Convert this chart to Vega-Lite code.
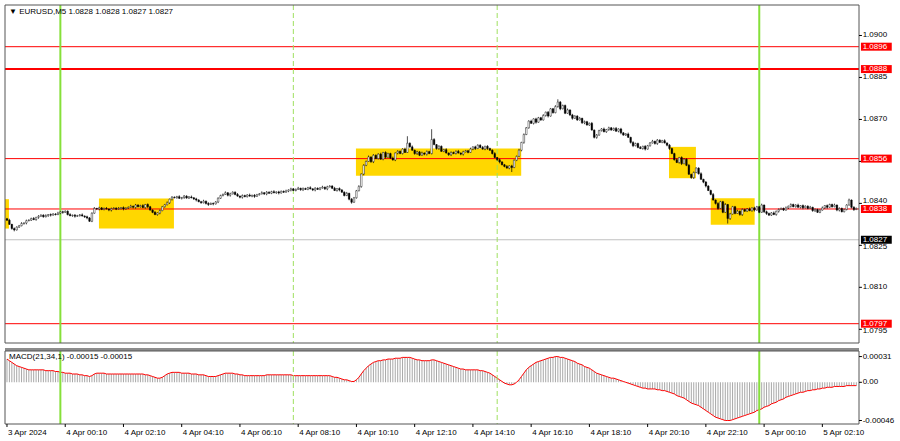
{
"$schema":"https://vega.github.io/schema/vega-lite/v6.json",
"padding":0,
"autosize":{"type":"none"},
"background":"white",
"width":900,
"height":441,
"config":{"view":{"stroke":null},"axis":{"disable":true},"font":"Liberation Sans","text":{"font":"Liberation Sans"}},
"resolve":{"scale":{"y":"independent"}},
"datasets":{
"bars":[
{"i":0,"o":1.08345,"h":1.08348,"l":1.08337,"c":1.08340,"m":0.00028},
{"i":1,"o":1.08340,"h":1.08345,"l":1.08323,"c":1.08325,"m":0.00026},
{"i":2,"o":1.08325,"h":1.08327,"l":1.08306,"c":1.08310,"m":0.00024},
{"i":3,"o":1.08310,"h":1.08314,"l":1.08300,"c":1.08305,"m":0.00022},
{"i":4,"o":1.08305,"h":1.08318,"l":1.08303,"c":1.08315,"m":0.00020},
{"i":5,"o":1.08315,"h":1.08323,"l":1.08312,"c":1.08320,"m":0.00019},
{"i":6,"o":1.08320,"h":1.08333,"l":1.08318,"c":1.08328,"m":0.00018},
{"i":7,"o":1.08328,"h":1.08332,"l":1.08324,"c":1.08330,"m":0.00017},
{"i":8,"o":1.08330,"h":1.08342,"l":1.08325,"c":1.08338,"m":0.00016},
{"i":9,"o":1.08338,"h":1.08343,"l":1.08336,"c":1.08340,"m":0.00015},
{"i":10,"o":1.08340,"h":1.08349,"l":1.08337,"c":1.08346,"m":0.00015},
{"i":11,"o":1.08346,"h":1.08351,"l":1.08340,"c":1.08342,"m":0.00015},
{"i":12,"o":1.08342,"h":1.08352,"l":1.08338,"c":1.08350,"m":0.00015},
{"i":13,"o":1.08350,"h":1.08358,"l":1.08345,"c":1.08354,"m":0.00015},
{"i":14,"o":1.08354,"h":1.08361,"l":1.08352,"c":1.08358,"m":0.00015},
{"i":15,"o":1.08358,"h":1.08361,"l":1.08349,"c":1.08352,"m":0.00015},
{"i":16,"o":1.08352,"h":1.08361,"l":1.08350,"c":1.08356,"m":0.00014},
{"i":17,"o":1.08356,"h":1.08362,"l":1.08352,"c":1.08360,"m":0.00014},
{"i":18,"o":1.08360,"h":1.08364,"l":1.08353,"c":1.08358,"m":0.00014},
{"i":19,"o":1.08358,"h":1.08365,"l":1.08356,"c":1.08362,"m":0.00014},
{"i":20,"o":1.08362,"h":1.08365,"l":1.08357,"c":1.08360,"m":0.00013},
{"i":21,"o":1.08360,"h":1.08370,"l":1.08358,"c":1.08365,"m":0.00013},
{"i":22,"o":1.08365,"h":1.08372,"l":1.08361,"c":1.08370,"m":0.00012},
{"i":23,"o":1.08370,"h":1.08374,"l":1.08363,"c":1.08368,"m":0.00012},
{"i":24,"o":1.08368,"h":1.08375,"l":1.08366,"c":1.08372,"m":0.00011},
{"i":25,"o":1.08372,"h":1.08375,"l":1.08357,"c":1.08360,"m":0.00011},
{"i":26,"o":1.08360,"h":1.08365,"l":1.08354,"c":1.08356,"m":0.00011},
{"i":27,"o":1.08356,"h":1.08360,"l":1.08352,"c":1.08358,"m":0.00010},
{"i":28,"o":1.08358,"h":1.08362,"l":1.08349,"c":1.08354,"m":0.00010},
{"i":29,"o":1.08354,"h":1.08359,"l":1.08352,"c":1.08356,"m":0.00010},
{"i":30,"o":1.08356,"h":1.08362,"l":1.08353,"c":1.08359,"m":0.00009},
{"i":31,"o":1.08359,"h":1.08364,"l":1.08353,"c":1.08355,"m":0.00009},
{"i":32,"o":1.08355,"h":1.08357,"l":1.08348,"c":1.08352,"m":0.00008},
{"i":33,"o":1.08352,"h":1.08356,"l":1.08343,"c":1.08348,"m":0.00008},
{"i":34,"o":1.08348,"h":1.08351,"l":1.08334,"c":1.08336,"m":0.00007},
{"i":35,"o":1.08336,"h":1.08368,"l":1.08333,"c":1.08365,"m":0.00008},
{"i":36,"o":1.08365,"h":1.08387,"l":1.08363,"c":1.08382,"m":0.00010},
{"i":37,"o":1.08382,"h":1.08384,"l":1.08376,"c":1.08380,"m":0.00011},
{"i":38,"o":1.08380,"h":1.08388,"l":1.08375,"c":1.08384,"m":0.00011},
{"i":39,"o":1.08384,"h":1.08387,"l":1.08376,"c":1.08378,"m":0.00011},
{"i":40,"o":1.08378,"h":1.08385,"l":1.08375,"c":1.08382,"m":0.00011},
{"i":41,"o":1.08382,"h":1.08387,"l":1.08378,"c":1.08380,"m":0.00010},
{"i":42,"o":1.08380,"h":1.08382,"l":1.08372,"c":1.08376,"m":0.00010},
{"i":43,"o":1.08376,"h":1.08385,"l":1.08371,"c":1.08381,"m":0.00010},
{"i":44,"o":1.08381,"h":1.08386,"l":1.08379,"c":1.08383,"m":0.00010},
{"i":45,"o":1.08383,"h":1.08386,"l":1.08376,"c":1.08379,"m":0.00010},
{"i":46,"o":1.08379,"h":1.08387,"l":1.08377,"c":1.08382,"m":0.00010},
{"i":47,"o":1.08382,"h":1.08387,"l":1.08378,"c":1.08385,"m":0.00010},
{"i":48,"o":1.08385,"h":1.08389,"l":1.08375,"c":1.08380,"m":0.00010},
{"i":49,"o":1.08380,"h":1.08386,"l":1.08378,"c":1.08383,"m":0.00010},
{"i":50,"o":1.08383,"h":1.08389,"l":1.08380,"c":1.08386,"m":0.00010},
{"i":51,"o":1.08386,"h":1.08395,"l":1.08384,"c":1.08390,"m":0.00010},
{"i":52,"o":1.08390,"h":1.08392,"l":1.08382,"c":1.08386,"m":0.00010},
{"i":53,"o":1.08386,"h":1.08398,"l":1.08381,"c":1.08394,"m":0.00010},
{"i":54,"o":1.08394,"h":1.08397,"l":1.08386,"c":1.08388,"m":0.00010},
{"i":55,"o":1.08388,"h":1.08395,"l":1.08385,"c":1.08392,"m":0.00010},
{"i":56,"o":1.08392,"h":1.08397,"l":1.08383,"c":1.08385,"m":0.00010},
{"i":57,"o":1.08385,"h":1.08398,"l":1.08381,"c":1.08396,"m":0.00009},
{"i":58,"o":1.08396,"h":1.08400,"l":1.08383,"c":1.08388,"m":0.00009},
{"i":59,"o":1.08388,"h":1.08391,"l":1.08374,"c":1.08376,"m":0.00008},
{"i":60,"o":1.08376,"h":1.08379,"l":1.08365,"c":1.08368,"m":0.00007},
{"i":61,"o":1.08368,"h":1.08373,"l":1.08358,"c":1.08360,"m":0.00006},
{"i":62,"o":1.08360,"h":1.08368,"l":1.08356,"c":1.08366,"m":0.00005},
{"i":63,"o":1.08366,"h":1.08378,"l":1.08361,"c":1.08374,"m":0.00005},
{"i":64,"o":1.08374,"h":1.08391,"l":1.08372,"c":1.08388,"m":0.00006},
{"i":65,"o":1.08388,"h":1.08398,"l":1.08385,"c":1.08395,"m":0.00008},
{"i":66,"o":1.08395,"h":1.08407,"l":1.08393,"c":1.08402,"m":0.00010},
{"i":67,"o":1.08402,"h":1.08417,"l":1.08398,"c":1.08415,"m":0.00011},
{"i":68,"o":1.08415,"h":1.08426,"l":1.08410,"c":1.08422,"m":0.00012},
{"i":69,"o":1.08422,"h":1.08425,"l":1.08418,"c":1.08420,"m":0.00012},
{"i":70,"o":1.08420,"h":1.08427,"l":1.08417,"c":1.08424,"m":0.00012},
{"i":71,"o":1.08424,"h":1.08429,"l":1.08416,"c":1.08418,"m":0.00012},
{"i":72,"o":1.08418,"h":1.08423,"l":1.08414,"c":1.08421,"m":0.00011},
{"i":73,"o":1.08421,"h":1.08430,"l":1.08416,"c":1.08426,"m":0.00011},
{"i":74,"o":1.08426,"h":1.08429,"l":1.08417,"c":1.08419,"m":0.00011},
{"i":75,"o":1.08419,"h":1.08426,"l":1.08416,"c":1.08423,"m":0.00011},
{"i":76,"o":1.08423,"h":1.08428,"l":1.08418,"c":1.08420,"m":0.00010},
{"i":77,"o":1.08420,"h":1.08422,"l":1.08412,"c":1.08416,"m":0.00010},
{"i":78,"o":1.08416,"h":1.08420,"l":1.08407,"c":1.08412,"m":0.00010},
{"i":79,"o":1.08412,"h":1.08415,"l":1.08404,"c":1.08406,"m":0.00009},
{"i":80,"o":1.08406,"h":1.08409,"l":1.08399,"c":1.08402,"m":0.00009},
{"i":81,"o":1.08402,"h":1.08413,"l":1.08400,"c":1.08408,"m":0.00009},
{"i":82,"o":1.08408,"h":1.08410,"l":1.08396,"c":1.08400,"m":0.00008},
{"i":83,"o":1.08400,"h":1.08404,"l":1.08391,"c":1.08396,"m":0.00007},
{"i":84,"o":1.08396,"h":1.08403,"l":1.08394,"c":1.08400,"m":0.00007},
{"i":85,"o":1.08400,"h":1.08403,"l":1.08393,"c":1.08398,"m":0.00007},
{"i":86,"o":1.08398,"h":1.08408,"l":1.08396,"c":1.08405,"m":0.00007},
{"i":87,"o":1.08405,"h":1.08422,"l":1.08401,"c":1.08418,"m":0.00008},
{"i":88,"o":1.08418,"h":1.08431,"l":1.08416,"c":1.08428,"m":0.00009},
{"i":89,"o":1.08428,"h":1.08435,"l":1.08425,"c":1.08432,"m":0.00010},
{"i":90,"o":1.08432,"h":1.08443,"l":1.08430,"c":1.08438,"m":0.00011},
{"i":91,"o":1.08438,"h":1.08440,"l":1.08425,"c":1.08429,"m":0.00011},
{"i":92,"o":1.08429,"h":1.08438,"l":1.08424,"c":1.08434,"m":0.00011},
{"i":93,"o":1.08434,"h":1.08443,"l":1.08432,"c":1.08440,"m":0.00011},
{"i":94,"o":1.08440,"h":1.08443,"l":1.08429,"c":1.08432,"m":0.00010},
{"i":95,"o":1.08432,"h":1.08437,"l":1.08424,"c":1.08426,"m":0.00010},
{"i":96,"o":1.08426,"h":1.08428,"l":1.08418,"c":1.08422,"m":0.00009},
{"i":97,"o":1.08422,"h":1.08432,"l":1.08417,"c":1.08428,"m":0.00009},
{"i":98,"o":1.08428,"h":1.08431,"l":1.08422,"c":1.08424,"m":0.00008},
{"i":99,"o":1.08424,"h":1.08433,"l":1.08421,"c":1.08430,"m":0.00008},
{"i":100,"o":1.08430,"h":1.08435,"l":1.08424,"c":1.08426,"m":0.00008},
{"i":101,"o":1.08426,"h":1.08431,"l":1.08422,"c":1.08429,"m":0.00008},
{"i":102,"o":1.08429,"h":1.08433,"l":1.08420,"c":1.08425,"m":0.00008},
{"i":103,"o":1.08425,"h":1.08434,"l":1.08423,"c":1.08431,"m":0.00008},
{"i":104,"o":1.08431,"h":1.08437,"l":1.08428,"c":1.08434,"m":0.00008},
{"i":105,"o":1.08434,"h":1.08443,"l":1.08432,"c":1.08438,"m":0.00008},
{"i":106,"o":1.08438,"h":1.08440,"l":1.08430,"c":1.08434,"m":0.00008},
{"i":107,"o":1.08434,"h":1.08444,"l":1.08429,"c":1.08440,"m":0.00009},
{"i":108,"o":1.08440,"h":1.08443,"l":1.08434,"c":1.08436,"m":0.00009},
{"i":109,"o":1.08436,"h":1.08445,"l":1.08433,"c":1.08442,"m":0.00009},
{"i":110,"o":1.08442,"h":1.08447,"l":1.08436,"c":1.08438,"m":0.00009},
{"i":111,"o":1.08438,"h":1.08443,"l":1.08434,"c":1.08441,"m":0.00009},
{"i":112,"o":1.08441,"h":1.08445,"l":1.08432,"c":1.08437,"m":0.00009},
{"i":113,"o":1.08437,"h":1.08446,"l":1.08435,"c":1.08443,"m":0.00009},
{"i":114,"o":1.08443,"h":1.08446,"l":1.08437,"c":1.08440,"m":0.00009},
{"i":115,"o":1.08440,"h":1.08449,"l":1.08438,"c":1.08444,"m":0.00009},
{"i":116,"o":1.08444,"h":1.08450,"l":1.08440,"c":1.08448,"m":0.00009},
{"i":117,"o":1.08448,"h":1.08456,"l":1.08443,"c":1.08452,"m":0.00009},
{"i":118,"o":1.08452,"h":1.08455,"l":1.08444,"c":1.08446,"m":0.00008},
{"i":119,"o":1.08446,"h":1.08453,"l":1.08443,"c":1.08450,"m":0.00008},
{"i":120,"o":1.08450,"h":1.08459,"l":1.08448,"c":1.08454,"m":0.00008},
{"i":121,"o":1.08454,"h":1.08456,"l":1.08445,"c":1.08449,"m":0.00008},
{"i":122,"o":1.08449,"h":1.08457,"l":1.08444,"c":1.08453,"m":0.00008},
{"i":123,"o":1.08453,"h":1.08456,"l":1.08448,"c":1.08450,"m":0.00008},
{"i":124,"o":1.08450,"h":1.08459,"l":1.08447,"c":1.08456,"m":0.00008},
{"i":125,"o":1.08456,"h":1.08461,"l":1.08450,"c":1.08452,"m":0.00008},
{"i":126,"o":1.08452,"h":1.08454,"l":1.08444,"c":1.08448,"m":0.00008},
{"i":127,"o":1.08448,"h":1.08458,"l":1.08443,"c":1.08454,"m":0.00008},
{"i":128,"o":1.08454,"h":1.08457,"l":1.08448,"c":1.08450,"m":0.00008},
{"i":129,"o":1.08450,"h":1.08458,"l":1.08447,"c":1.08455,"m":0.00008},
{"i":130,"o":1.08455,"h":1.08463,"l":1.08453,"c":1.08458,"m":0.00008},
{"i":131,"o":1.08458,"h":1.08460,"l":1.08448,"c":1.08452,"m":0.00008},
{"i":132,"o":1.08452,"h":1.08463,"l":1.08447,"c":1.08459,"m":0.00008},
{"i":133,"o":1.08459,"h":1.08465,"l":1.08457,"c":1.08462,"m":0.00008},
{"i":134,"o":1.08462,"h":1.08465,"l":1.08451,"c":1.08454,"m":0.00007},
{"i":135,"o":1.08454,"h":1.08459,"l":1.08444,"c":1.08446,"m":0.00006},
{"i":136,"o":1.08446,"h":1.08455,"l":1.08442,"c":1.08453,"m":0.00006},
{"i":137,"o":1.08453,"h":1.08457,"l":1.08443,"c":1.08448,"m":0.00005},
{"i":138,"o":1.08448,"h":1.08451,"l":1.08438,"c":1.08440,"m":0.00004},
{"i":139,"o":1.08440,"h":1.08443,"l":1.08425,"c":1.08428,"m":0.00003},
{"i":140,"o":1.08428,"h":1.08441,"l":1.08426,"c":1.08436,"m":0.00003},
{"i":141,"o":1.08436,"h":1.08438,"l":1.08411,"c":1.08415,"m":0.00002},
{"i":142,"o":1.08415,"h":1.08419,"l":1.08399,"c":1.08404,"m":0.00001},
{"i":143,"o":1.08404,"h":1.08423,"l":1.08402,"c":1.08420,"m":0.00001},
{"i":144,"o":1.08420,"h":1.08448,"l":1.08417,"c":1.08445,"m":0.00003},
{"i":145,"o":1.08445,"h":1.08465,"l":1.08443,"c":1.08460,"m":0.00006},
{"i":146,"o":1.08460,"h":1.08507,"l":1.08456,"c":1.08505,"m":0.00010},
{"i":147,"o":1.08505,"h":1.08540,"l":1.08500,"c":1.08536,"m":0.00014},
{"i":148,"o":1.08536,"h":1.08553,"l":1.08533,"c":1.08550,"m":0.00017},
{"i":149,"o":1.08550,"h":1.08571,"l":1.08548,"c":1.08566,"m":0.00020},
{"i":150,"o":1.08566,"h":1.08568,"l":1.08545,"c":1.08549,"m":0.00022},
{"i":151,"o":1.08549,"h":1.08576,"l":1.08544,"c":1.08572,"m":0.00024},
{"i":152,"o":1.08572,"h":1.08575,"l":1.08558,"c":1.08560,"m":0.00025},
{"i":153,"o":1.08560,"h":1.08579,"l":1.08557,"c":1.08576,"m":0.00026},
{"i":154,"o":1.08576,"h":1.08581,"l":1.08556,"c":1.08558,"m":0.00026},
{"i":155,"o":1.08558,"h":1.08584,"l":1.08554,"c":1.08582,"m":0.00027},
{"i":156,"o":1.08582,"h":1.08586,"l":1.08560,"c":1.08565,"m":0.00027},
{"i":157,"o":1.08565,"h":1.08581,"l":1.08563,"c":1.08578,"m":0.00028},
{"i":158,"o":1.08578,"h":1.08581,"l":1.08559,"c":1.08562,"m":0.00028},
{"i":159,"o":1.08562,"h":1.08567,"l":1.08553,"c":1.08555,"m":0.00028},
{"i":160,"o":1.08555,"h":1.08582,"l":1.08551,"c":1.08580,"m":0.00029},
{"i":161,"o":1.08580,"h":1.08590,"l":1.08575,"c":1.08586,"m":0.00029},
{"i":162,"o":1.08586,"h":1.08589,"l":1.08576,"c":1.08578,"m":0.00029},
{"i":163,"o":1.08578,"h":1.08597,"l":1.08575,"c":1.08594,"m":0.00030},
{"i":164,"o":1.08594,"h":1.08599,"l":1.08580,"c":1.08582,"m":0.00030},
{"i":165,"o":1.08582,"h":1.08640,"l":1.08580,"c":1.08615,"m":0.00030},
{"i":166,"o":1.08615,"h":1.08618,"l":1.08599,"c":1.08602,"m":0.00030},
{"i":167,"o":1.08602,"h":1.08607,"l":1.08588,"c":1.08590,"m":0.00029},
{"i":168,"o":1.08590,"h":1.08592,"l":1.08574,"c":1.08578,"m":0.00028},
{"i":169,"o":1.08578,"h":1.08588,"l":1.08573,"c":1.08584,"m":0.00027},
{"i":170,"o":1.08584,"h":1.08587,"l":1.08569,"c":1.08572,"m":0.00027},
{"i":171,"o":1.08572,"h":1.08585,"l":1.08570,"c":1.08580,"m":0.00026},
{"i":172,"o":1.08580,"h":1.08582,"l":1.08572,"c":1.08576,"m":0.00026},
{"i":173,"o":1.08576,"h":1.08589,"l":1.08571,"c":1.08585,"m":0.00026},
{"i":174,"o":1.08585,"h":1.08588,"l":1.08576,"c":1.08578,"m":0.00026},
{"i":175,"o":1.08578,"h":1.08665,"l":1.08575,"c":1.08628,"m":0.00027},
{"i":176,"o":1.08628,"h":1.08633,"l":1.08608,"c":1.08610,"m":0.00027},
{"i":177,"o":1.08610,"h":1.08612,"l":1.08592,"c":1.08596,"m":0.00026},
{"i":178,"o":1.08596,"h":1.08608,"l":1.08591,"c":1.08604,"m":0.00025},
{"i":179,"o":1.08604,"h":1.08607,"l":1.08584,"c":1.08586,"m":0.00024},
{"i":180,"o":1.08586,"h":1.08595,"l":1.08583,"c":1.08592,"m":0.00023},
{"i":181,"o":1.08592,"h":1.08597,"l":1.08578,"c":1.08580,"m":0.00022},
{"i":182,"o":1.08580,"h":1.08582,"l":1.08570,"c":1.08574,"m":0.00021},
{"i":183,"o":1.08574,"h":1.08586,"l":1.08569,"c":1.08582,"m":0.00020},
{"i":184,"o":1.08582,"h":1.08585,"l":1.08576,"c":1.08578,"m":0.00019},
{"i":185,"o":1.08578,"h":1.08589,"l":1.08575,"c":1.08586,"m":0.00018},
{"i":186,"o":1.08586,"h":1.08591,"l":1.08578,"c":1.08580,"m":0.00017},
{"i":187,"o":1.08580,"h":1.08582,"l":1.08572,"c":1.08576,"m":0.00016},
{"i":188,"o":1.08576,"h":1.08588,"l":1.08571,"c":1.08584,"m":0.00016},
{"i":189,"o":1.08584,"h":1.08591,"l":1.08582,"c":1.08588,"m":0.00015},
{"i":190,"o":1.08588,"h":1.08591,"l":1.08579,"c":1.08582,"m":0.00015},
{"i":191,"o":1.08582,"h":1.08599,"l":1.08580,"c":1.08594,"m":0.00015},
{"i":192,"o":1.08594,"h":1.08604,"l":1.08590,"c":1.08602,"m":0.00015},
{"i":193,"o":1.08602,"h":1.08606,"l":1.08591,"c":1.08596,"m":0.00015},
{"i":194,"o":1.08596,"h":1.08611,"l":1.08594,"c":1.08608,"m":0.00015},
{"i":195,"o":1.08608,"h":1.08611,"l":1.08597,"c":1.08600,"m":0.00014},
{"i":196,"o":1.08600,"h":1.08605,"l":1.08592,"c":1.08594,"m":0.00014},
{"i":197,"o":1.08594,"h":1.08606,"l":1.08590,"c":1.08604,"m":0.00013},
{"i":198,"o":1.08604,"h":1.08608,"l":1.08591,"c":1.08596,"m":0.00012},
{"i":199,"o":1.08596,"h":1.08599,"l":1.08588,"c":1.08590,"m":0.00011},
{"i":200,"o":1.08590,"h":1.08593,"l":1.08575,"c":1.08578,"m":0.00009},
{"i":201,"o":1.08578,"h":1.08583,"l":1.08562,"c":1.08564,"m":0.00007},
{"i":202,"o":1.08564,"h":1.08566,"l":1.08552,"c":1.08556,"m":0.00005},
{"i":203,"o":1.08556,"h":1.08560,"l":1.08543,"c":1.08548,"m":0.00003},
{"i":204,"o":1.08548,"h":1.08551,"l":1.08536,"c":1.08538,"m":0.00001},
{"i":205,"o":1.08538,"h":1.08541,"l":1.08529,"c":1.08532,"m":-0.00001},
{"i":206,"o":1.08532,"h":1.08537,"l":1.08524,"c":1.08526,"m":-0.00002},
{"i":207,"o":1.08526,"h":1.08536,"l":1.08522,"c":1.08534,"m":-0.00003},
{"i":208,"o":1.08534,"h":1.08538,"l":1.08512,"c":1.08528,"m":-0.00003},
{"i":209,"o":1.08528,"h":1.08557,"l":1.08526,"c":1.08554,"m":-0.00002},
{"i":210,"o":1.08554,"h":1.08571,"l":1.08551,"c":1.08568,"m":0.00000},
{"i":211,"o":1.08568,"h":1.08595,"l":1.08566,"c":1.08590,"m":0.00003},
{"i":212,"o":1.08590,"h":1.08620,"l":1.08586,"c":1.08618,"m":0.00007},
{"i":213,"o":1.08618,"h":1.08650,"l":1.08613,"c":1.08646,"m":0.00011},
{"i":214,"o":1.08646,"h":1.08673,"l":1.08644,"c":1.08670,"m":0.00015},
{"i":215,"o":1.08670,"h":1.08697,"l":1.08667,"c":1.08694,"m":0.00018},
{"i":216,"o":1.08694,"h":1.08699,"l":1.08684,"c":1.08686,"m":0.00020},
{"i":217,"o":1.08686,"h":1.08704,"l":1.08682,"c":1.08702,"m":0.00022},
{"i":218,"o":1.08702,"h":1.08706,"l":1.08685,"c":1.08690,"m":0.00024},
{"i":219,"o":1.08690,"h":1.08709,"l":1.08688,"c":1.08706,"m":0.00025},
{"i":220,"o":1.08706,"h":1.08709,"l":1.08695,"c":1.08698,"m":0.00026},
{"i":221,"o":1.08698,"h":1.08719,"l":1.08696,"c":1.08714,"m":0.00027},
{"i":222,"o":1.08714,"h":1.08728,"l":1.08710,"c":1.08726,"m":0.00028},
{"i":223,"o":1.08726,"h":1.08730,"l":1.08707,"c":1.08712,"m":0.00029},
{"i":224,"o":1.08712,"h":1.08741,"l":1.08710,"c":1.08738,"m":0.00030},
{"i":225,"o":1.08738,"h":1.08741,"l":1.08721,"c":1.08724,"m":0.00030},
{"i":226,"o":1.08724,"h":1.08751,"l":1.08722,"c":1.08746,"m":0.00031},
{"i":227,"o":1.08746,"h":1.08772,"l":1.08742,"c":1.08762,"m":0.00031},
{"i":228,"o":1.08762,"h":1.08766,"l":1.08733,"c":1.08738,"m":0.00030},
{"i":229,"o":1.08738,"h":1.08753,"l":1.08736,"c":1.08750,"m":0.00030},
{"i":230,"o":1.08750,"h":1.08753,"l":1.08719,"c":1.08722,"m":0.00029},
{"i":231,"o":1.08722,"h":1.08739,"l":1.08720,"c":1.08734,"m":0.00028},
{"i":232,"o":1.08734,"h":1.08736,"l":1.08712,"c":1.08716,"m":0.00027},
{"i":233,"o":1.08716,"h":1.08720,"l":1.08699,"c":1.08704,"m":0.00026},
{"i":234,"o":1.08704,"h":1.08715,"l":1.08702,"c":1.08712,"m":0.00025},
{"i":235,"o":1.08712,"h":1.08715,"l":1.08695,"c":1.08698,"m":0.00023},
{"i":236,"o":1.08698,"h":1.08709,"l":1.08696,"c":1.08704,"m":0.00022},
{"i":237,"o":1.08704,"h":1.08706,"l":1.08684,"c":1.08688,"m":0.00021},
{"i":238,"o":1.08688,"h":1.08696,"l":1.08683,"c":1.08692,"m":0.00019},
{"i":239,"o":1.08692,"h":1.08695,"l":1.08678,"c":1.08680,"m":0.00018},
{"i":240,"o":1.08680,"h":1.08689,"l":1.08677,"c":1.08686,"m":0.00017},
{"i":241,"o":1.08686,"h":1.08691,"l":1.08660,"c":1.08662,"m":0.00015},
{"i":242,"o":1.08662,"h":1.08664,"l":1.08632,"c":1.08636,"m":0.00013},
{"i":243,"o":1.08636,"h":1.08648,"l":1.08631,"c":1.08644,"m":0.00011},
{"i":244,"o":1.08644,"h":1.08663,"l":1.08642,"c":1.08660,"m":0.00010},
{"i":245,"o":1.08660,"h":1.08669,"l":1.08657,"c":1.08666,"m":0.00009},
{"i":246,"o":1.08666,"h":1.08671,"l":1.08654,"c":1.08656,"m":0.00008},
{"i":247,"o":1.08656,"h":1.08666,"l":1.08652,"c":1.08664,"m":0.00007},
{"i":248,"o":1.08664,"h":1.08674,"l":1.08659,"c":1.08670,"m":0.00006},
{"i":249,"o":1.08670,"h":1.08673,"l":1.08660,"c":1.08662,"m":0.00005},
{"i":250,"o":1.08662,"h":1.08671,"l":1.08659,"c":1.08668,"m":0.00005},
{"i":251,"o":1.08668,"h":1.08673,"l":1.08656,"c":1.08658,"m":0.00004},
{"i":252,"o":1.08658,"h":1.08668,"l":1.08654,"c":1.08666,"m":0.00003},
{"i":253,"o":1.08666,"h":1.08670,"l":1.08647,"c":1.08652,"m":0.00002},
{"i":254,"o":1.08652,"h":1.08655,"l":1.08642,"c":1.08644,"m":0.00001},
{"i":255,"o":1.08644,"h":1.08651,"l":1.08641,"c":1.08648,"m":0.00000},
{"i":256,"o":1.08648,"h":1.08653,"l":1.08634,"c":1.08636,"m":-0.00001},
{"i":257,"o":1.08636,"h":1.08638,"l":1.08614,"c":1.08618,"m":-0.00002},
{"i":258,"o":1.08618,"h":1.08622,"l":1.08601,"c":1.08606,"m":-0.00003},
{"i":259,"o":1.08606,"h":1.08617,"l":1.08604,"c":1.08614,"m":-0.00004},
{"i":260,"o":1.08614,"h":1.08617,"l":1.08597,"c":1.08600,"m":-0.00005},
{"i":261,"o":1.08600,"h":1.08605,"l":1.08594,"c":1.08596,"m":-0.00006},
{"i":262,"o":1.08596,"h":1.08606,"l":1.08592,"c":1.08604,"m":-0.00007},
{"i":263,"o":1.08604,"h":1.08608,"l":1.08589,"c":1.08594,"m":-0.00007},
{"i":264,"o":1.08594,"h":1.08609,"l":1.08592,"c":1.08606,"m":-0.00008},
{"i":265,"o":1.08606,"h":1.08619,"l":1.08603,"c":1.08616,"m":-0.00008},
{"i":266,"o":1.08616,"h":1.08627,"l":1.08614,"c":1.08622,"m":-0.00008},
{"i":267,"o":1.08622,"h":1.08624,"l":1.08610,"c":1.08614,"m":-0.00008},
{"i":268,"o":1.08614,"h":1.08630,"l":1.08609,"c":1.08626,"m":-0.00009},
{"i":269,"o":1.08626,"h":1.08629,"l":1.08616,"c":1.08618,"m":-0.00009},
{"i":270,"o":1.08618,"h":1.08627,"l":1.08615,"c":1.08624,"m":-0.00010},
{"i":271,"o":1.08624,"h":1.08629,"l":1.08614,"c":1.08616,"m":-0.00010},
{"i":272,"o":1.08616,"h":1.08618,"l":1.08604,"c":1.08608,"m":-0.00011},
{"i":273,"o":1.08608,"h":1.08612,"l":1.08591,"c":1.08596,"m":-0.00012},
{"i":274,"o":1.08596,"h":1.08599,"l":1.08576,"c":1.08578,"m":-0.00013},
{"i":275,"o":1.08578,"h":1.08581,"l":1.08553,"c":1.08556,"m":-0.00014},
{"i":276,"o":1.08556,"h":1.08561,"l":1.08544,"c":1.08546,"m":-0.00016},
{"i":277,"o":1.08546,"h":1.08566,"l":1.08542,"c":1.08564,"m":-0.00017},
{"i":278,"o":1.08564,"h":1.08568,"l":1.08537,"c":1.08542,"m":-0.00018},
{"i":279,"o":1.08542,"h":1.08561,"l":1.08540,"c":1.08558,"m":-0.00019},
{"i":280,"o":1.08558,"h":1.08561,"l":1.08533,"c":1.08536,"m":-0.00021},
{"i":281,"o":1.08536,"h":1.08541,"l":1.08502,"c":1.08504,"m":-0.00023},
{"i":282,"o":1.08504,"h":1.08506,"l":1.08488,"c":1.08492,"m":-0.00025},
{"i":283,"o":1.08492,"h":1.08514,"l":1.08487,"c":1.08510,"m":-0.00026},
{"i":284,"o":1.08510,"h":1.08529,"l":1.08508,"c":1.08526,"m":-0.00027},
{"i":285,"o":1.08526,"h":1.08529,"l":1.08503,"c":1.08506,"m":-0.00028},
{"i":286,"o":1.08506,"h":1.08511,"l":1.08484,"c":1.08486,"m":-0.00030},
{"i":287,"o":1.08486,"h":1.08488,"l":1.08472,"c":1.08476,"m":-0.00032},
{"i":288,"o":1.08476,"h":1.08480,"l":1.08457,"c":1.08462,"m":-0.00034},
{"i":289,"o":1.08462,"h":1.08465,"l":1.08444,"c":1.08446,"m":-0.00036},
{"i":290,"o":1.08446,"h":1.08449,"l":1.08429,"c":1.08432,"m":-0.00038},
{"i":291,"o":1.08432,"h":1.08437,"l":1.08410,"c":1.08412,"m":-0.00040},
{"i":292,"o":1.08412,"h":1.08414,"l":1.08396,"c":1.08400,"m":-0.00042},
{"i":293,"o":1.08400,"h":1.08404,"l":1.08377,"c":1.08382,"m":-0.00043},
{"i":294,"o":1.08382,"h":1.08409,"l":1.08380,"c":1.08406,"m":-0.00044},
{"i":295,"o":1.08406,"h":1.08409,"l":1.08365,"c":1.08368,"m":-0.00045},
{"i":296,"o":1.08368,"h":1.08401,"l":1.08366,"c":1.08396,"m":-0.00046},
{"i":297,"o":1.08396,"h":1.08398,"l":1.08328,"c":1.08346,"m":-0.00046},
{"i":298,"o":1.08346,"h":1.08366,"l":1.08341,"c":1.08362,"m":-0.00046},
{"i":299,"o":1.08362,"h":1.08391,"l":1.08360,"c":1.08388,"m":-0.00045},
{"i":300,"o":1.08388,"h":1.08391,"l":1.08361,"c":1.08364,"m":-0.00044},
{"i":301,"o":1.08364,"h":1.08377,"l":1.08362,"c":1.08372,"m":-0.00043},
{"i":302,"o":1.08372,"h":1.08374,"l":1.08356,"c":1.08360,"m":-0.00042},
{"i":303,"o":1.08360,"h":1.08382,"l":1.08355,"c":1.08378,"m":-0.00041},
{"i":304,"o":1.08378,"h":1.08381,"l":1.08370,"c":1.08372,"m":-0.00040},
{"i":305,"o":1.08372,"h":1.08383,"l":1.08369,"c":1.08380,"m":-0.00039},
{"i":306,"o":1.08380,"h":1.08385,"l":1.08372,"c":1.08374,"m":-0.00038},
{"i":307,"o":1.08374,"h":1.08386,"l":1.08370,"c":1.08384,"m":-0.00037},
{"i":308,"o":1.08384,"h":1.08388,"l":1.08371,"c":1.08376,"m":-0.00036},
{"i":309,"o":1.08376,"h":1.08391,"l":1.08374,"c":1.08388,"m":-0.00034},
{"i":310,"o":1.08388,"h":1.08391,"l":1.08365,"c":1.08368,"m":-0.00033},
{"i":311,"o":1.08368,"h":1.08399,"l":1.08366,"c":1.08394,"m":-0.00032},
{"i":312,"o":1.08394,"h":1.08396,"l":1.08366,"c":1.08370,"m":-0.00030},
{"i":313,"o":1.08370,"h":1.08374,"l":1.08359,"c":1.08364,"m":-0.00029},
{"i":314,"o":1.08364,"h":1.08367,"l":1.08356,"c":1.08358,"m":-0.00028},
{"i":315,"o":1.08358,"h":1.08369,"l":1.08355,"c":1.08366,"m":-0.00026},
{"i":316,"o":1.08366,"h":1.08371,"l":1.08358,"c":1.08360,"m":-0.00025},
{"i":317,"o":1.08360,"h":1.08374,"l":1.08356,"c":1.08372,"m":-0.00024},
{"i":318,"o":1.08372,"h":1.08382,"l":1.08367,"c":1.08378,"m":-0.00022},
{"i":319,"o":1.08378,"h":1.08385,"l":1.08376,"c":1.08382,"m":-0.00021},
{"i":320,"o":1.08382,"h":1.08385,"l":1.08373,"c":1.08376,"m":-0.00020},
{"i":321,"o":1.08376,"h":1.08389,"l":1.08374,"c":1.08384,"m":-0.00018},
{"i":322,"o":1.08384,"h":1.08392,"l":1.08380,"c":1.08390,"m":-0.00017},
{"i":323,"o":1.08390,"h":1.08400,"l":1.08385,"c":1.08396,"m":-0.00016},
{"i":324,"o":1.08396,"h":1.08399,"l":1.08386,"c":1.08388,"m":-0.00015},
{"i":325,"o":1.08388,"h":1.08397,"l":1.08385,"c":1.08394,"m":-0.00014},
{"i":326,"o":1.08394,"h":1.08399,"l":1.08384,"c":1.08386,"m":-0.00013},
{"i":327,"o":1.08386,"h":1.08394,"l":1.08382,"c":1.08392,"m":-0.00012},
{"i":328,"o":1.08392,"h":1.08396,"l":1.08379,"c":1.08384,"m":-0.00012},
{"i":329,"o":1.08384,"h":1.08393,"l":1.08382,"c":1.08390,"m":-0.00011},
{"i":330,"o":1.08390,"h":1.08393,"l":1.08379,"c":1.08382,"m":-0.00010},
{"i":331,"o":1.08382,"h":1.08391,"l":1.08380,"c":1.08386,"m":-0.00010},
{"i":332,"o":1.08386,"h":1.08388,"l":1.08370,"c":1.08374,"m":-0.00009},
{"i":333,"o":1.08374,"h":1.08382,"l":1.08369,"c":1.08378,"m":-0.00009},
{"i":334,"o":1.08378,"h":1.08381,"l":1.08366,"c":1.08368,"m":-0.00008},
{"i":335,"o":1.08368,"h":1.08379,"l":1.08365,"c":1.08376,"m":-0.00008},
{"i":336,"o":1.08376,"h":1.08389,"l":1.08374,"c":1.08384,"m":-0.00007},
{"i":337,"o":1.08384,"h":1.08394,"l":1.08380,"c":1.08392,"m":-0.00007},
{"i":338,"o":1.08392,"h":1.08396,"l":1.08381,"c":1.08386,"m":-0.00006},
{"i":339,"o":1.08386,"h":1.08399,"l":1.08384,"c":1.08396,"m":-0.00006},
{"i":340,"o":1.08396,"h":1.08399,"l":1.08385,"c":1.08388,"m":-0.00006},
{"i":341,"o":1.08388,"h":1.08399,"l":1.08386,"c":1.08394,"m":-0.00005},
{"i":342,"o":1.08394,"h":1.08396,"l":1.08372,"c":1.08376,"m":-0.00005},
{"i":343,"o":1.08376,"h":1.08386,"l":1.08371,"c":1.08382,"m":-0.00005},
{"i":344,"o":1.08382,"h":1.08385,"l":1.08368,"c":1.08370,"m":-0.00005},
{"i":345,"o":1.08370,"h":1.08381,"l":1.08368,"c":1.08378,"m":-0.00005},
{"i":346,"o":1.08378,"h":1.08397,"l":1.08375,"c":1.08394,"m":-0.00004},
{"i":347,"o":1.08394,"h":1.08417,"l":1.08392,"c":1.08412,"m":-0.00004},
{"i":348,"o":1.08412,"h":1.08414,"l":1.08382,"c":1.08386,"m":-0.00004},
{"i":349,"o":1.08386,"h":1.08390,"l":1.08373,"c":1.08378,"m":-0.00004},
{"i":350,"o":1.08378,"h":1.08385,"l":1.08376,"c":1.08382,"m":-0.00004}
]},
"layer":[
{"layer":[
{"data":{"values":[{"a":-0.815,"b":0.81,"top":1.08415,"bot":1.0831},{"a":37.9,"b":68.8,"top":1.08417,"bot":1.0831},{"a":143.8,"b":211.9,"top":1.08596,"bot":1.08499},{"a":272.8,"b":283.9,"top":1.08602,"bot":1.0849},{"a":290.0,"b":308.1,"top":1.08418,"bot":1.08324}]},
 "mark":{"type":"rect","color":"#FFD700"},
 "encoding":{
  "x":{"field":"a","type":"quantitative","scale":{"domain":[-0.815,351.1],"range":[0,864],"nice":false,"zero":false}},
  "x2":{"field":"b"},
  "y":{"field":"top","type":"quantitative","scale":{"domain":[1.07901,1.09109],"range":[348,0],"nice":false,"zero":false}},
  "y2":{"field":"bot"}}},
{"data":{"values":[{"p":1.0827}]},"mark":{"type":"rule","color":"#c0c0c0","strokeWidth":1},"encoding":{"x":{"datum":-0.815,"type":"quantitative"},"x2":{"datum":351.1},"y":{"field":"p","type":"quantitative"}}},
{"data":{"values":[{"p":1.0896},{"p":1.0856},{"p":1.0838},{"p":1.0797}]},"mark":{"type":"rule","color":"#ff0000","strokeWidth":1},"encoding":{"x":{"datum":-0.815,"type":"quantitative"},"x2":{"datum":351.1},"y":{"field":"p","type":"quantitative"}}},
{"data":{"values":[{"p":1.0888}]},"mark":{"type":"rule","color":"#ff0000","strokeWidth":2},"encoding":{"x":{"datum":-0.815,"type":"quantitative"},"x2":{"datum":351.1},"y":{"field":"p","type":"quantitative"}}},
{"data":{"values":[{"i":22},{"i":310}]},"mark":{"type":"rule","color":"#86e03a","strokeWidth":2},"encoding":{"x":{"field":"i","type":"quantitative"},"y":{"datum":1.09109,"type":"quantitative"},"y2":{"datum":1.07901}}},
{"data":{"values":[{"i":118},{"i":202}]},"mark":{"type":"rule","color":"#9fe060","strokeWidth":1,"strokeDash":[5,3]},"encoding":{"x":{"field":"i","type":"quantitative"},"y":{"datum":1.09109,"type":"quantitative"},"y2":{"datum":1.07901}}},
{"data":{"name":"bars"},"mark":{"type":"rule","color":"#000","strokeWidth":0.7},"encoding":{"x":{"field":"i","type":"quantitative"},"y":{"field":"l","type":"quantitative"},"y2":{"field":"h"}}},
{"data":{"name":"bars"},"mark":{"type":"bar","size":1.6,"stroke":"#000","strokeWidth":0.4},"encoding":{"x":{"field":"i","type":"quantitative"},"y":{"field":"o","type":"quantitative"},"y2":{"field":"c"},"fill":{"condition":{"test":"datum.c >= datum.o","value":"#ffffff"},"value":"#000000"}}},
{"data":{"values":[{"a":-0.815,"b":351.1}]},"mark":{"type":"rect","filled":false,"color":"#555","strokeWidth":1},"encoding":{"x":{"field":"a","type":"quantitative"},"x2":{"field":"b"},"y":{"datum":1.09109,"type":"quantitative"},"y2":{"datum":1.07901}}},
{"data":{"values":[{"p":1.0795},{"p":1.081},{"p":1.0825},{"p":1.084},{"p":1.0855},{"p":1.087},{"p":1.0885},{"p":1.09}]},"mark":{"type":"rule","color":"#000","strokeWidth":1},"encoding":{"x":{"datum":351.1,"type":"quantitative"},"x2":{"datum":352.3},"y":{"field":"p","type":"quantitative"}}},
{"data":{"values":[{"p":1.081},{"p":1.087},{"p":1.0885},{"p":1.09}]},"mark":{"type":"text","align":"left","baseline":"middle","color":"#000","fontSize":8,"font":"Liberation Sans"},"encoding":{"x":{"datum":352.6,"type":"quantitative"},"y":{"field":"p","type":"quantitative"},"text":{"field":"p","type":"quantitative","format":".4f"}}},
{"data":{"values":[{"p":1.084}]},"mark":{"type":"text","align":"left","baseline":"middle","color":"#000","fontSize":8,"font":"Liberation Sans","dy":-2},"encoding":{"x":{"datum":352.6,"type":"quantitative"},"y":{"field":"p","type":"quantitative"},"text":{"field":"p","type":"quantitative","format":".4f"}}},
{"data":{"values":[{"p":1.0825},{"p":1.0795}]},"mark":{"type":"text","align":"left","baseline":"middle","color":"#000","fontSize":8,"font":"Liberation Sans","dy":2},"encoding":{"x":{"datum":352.6,"type":"quantitative"},"y":{"field":"p","type":"quantitative"},"text":{"field":"p","type":"quantitative","format":".4f"}}},
{"data":{"values":[{"p":1.0896},{"p":1.0888},{"p":1.0856},{"p":1.0838},{"p":1.0797}]},"mark":{"type":"bar","size":8,"color":"#ff0000"},"encoding":{"x":{"datum":351.9,"type":"quantitative"},"x2":{"datum":364.6},"y":{"field":"p","type":"quantitative"}}},
{"data":{"values":[{"p":1.0827}]},"mark":{"type":"bar","size":8,"color":"#000000"},"encoding":{"x":{"datum":351.9,"type":"quantitative"},"x2":{"datum":364.6},"y":{"field":"p","type":"quantitative"}}},
{"data":{"values":[{"p":1.0896},{"p":1.0888},{"p":1.0856},{"p":1.0838},{"p":1.0797},{"p":1.0827}]},"mark":{"type":"text","align":"left","baseline":"middle","color":"#ffffff","fontSize":8,"font":"Liberation Sans"},"encoding":{"x":{"datum":352.6,"type":"quantitative"},"y":{"field":"p","type":"quantitative"},"text":{"field":"p","type":"quantitative","format":".4f"}}},
{"data":{"values":[{"t":"▼ EURUSD,M5  1.0828 1.0828 1.0827 1.0827"}]},"mark":{"type":"text","align":"left","baseline":"middle","color":"#000","fontSize":8,"font":"Liberation Sans","dx":4,"dy":7},"encoding":{"x":{"datum":-0.815,"type":"quantitative"},"y":{"datum":1.09109,"type":"quantitative"},"text":{"field":"t"}}}
]},
{"layer":[
{"data":{"name":"bars"},"mark":{"type":"bar","size":1,"color":"#a8a8a8"},
 "encoding":{
  "x":{"field":"i","type":"quantitative"},
  "y":{"field":"m","type":"quantitative","scale":{"domain":[-0.000502,0.000377],"range":[424,351],"nice":false,"zero":false}}}},
{"data":{"name":"bars"},"mark":{"type":"line","color":"#ff0000","strokeWidth":1},"encoding":{"x":{"field":"i","type":"quantitative"},"y":{"field":"m","type":"quantitative"}}},
{"data":{"values":[{"a":-0.815,"b":351.1}]},"mark":{"type":"rect","color":"#8c8c8c"},"encoding":{"x":{"field":"a","type":"quantitative"},"x2":{"field":"b"},"y":{"datum":0.000377,"type":"quantitative"},"y2":{"datum":0.000413}}},
{"data":{"values":[{"i":22},{"i":310}]},"mark":{"type":"rule","color":"#86e03a","strokeWidth":2},"encoding":{"x":{"field":"i","type":"quantitative"},"y":{"datum":0.000377,"type":"quantitative"},"y2":{"datum":-0.000502}}},
{"data":{"values":[{"i":118},{"i":202}]},"mark":{"type":"rule","color":"#9fe060","strokeWidth":1,"strokeDash":[5,3]},"encoding":{"x":{"field":"i","type":"quantitative"},"y":{"datum":0.000377,"type":"quantitative"},"y2":{"datum":-0.000502}}},
{"data":{"values":[{"a":-0.815,"b":351.1}]},"mark":{"type":"rect","filled":false,"color":"#555","strokeWidth":1},"encoding":{"x":{"field":"a","type":"quantitative"},"x2":{"field":"b"},"y":{"datum":0.000377,"type":"quantitative"},"y2":{"datum":-0.000502}}},
{"data":{"values":[{"t":"MACD(21,34,1) -0.00015 -0.00015"}]},"mark":{"type":"text","align":"left","baseline":"middle","color":"#000","fontSize":8,"font":"Liberation Sans","dx":4,"dy":6},"encoding":{"x":{"datum":-0.815,"type":"quantitative"},"y":{"datum":0.000377,"type":"quantitative"},"text":{"field":"t"}}},
{"data":{"values":[{"m":0.00031,"t":"0.00031"},{"m":0,"t":"0.00"},{"m":-0.00046,"t":"-0.00046"}]},"mark":{"type":"rule","color":"#000","strokeWidth":1},"encoding":{"x":{"datum":351.1,"type":"quantitative"},"x2":{"datum":352.3},"y":{"field":"m","type":"quantitative"}}},
{"data":{"values":[{"m":0.00031,"t":"0.00031"},{"m":0,"t":"0.00"},{"m":-0.00046,"t":"-0.00046"}]},"mark":{"type":"text","align":"left","baseline":"middle","color":"#000","fontSize":8,"font":"Liberation Sans"},"encoding":{"x":{"datum":352.6,"type":"quantitative"},"y":{"field":"m","type":"quantitative"},"text":{"field":"t"}}},
{"data":{"values":[{"i":0},{"i":24},{"i":48},{"i":72},{"i":96},{"i":120},{"i":144},{"i":168},{"i":192},{"i":216},{"i":240},{"i":264},{"i":288},{"i":312},{"i":336}]},"mark":{"type":"rule","color":"#000","strokeWidth":1},"encoding":{"x":{"field":"i","type":"quantitative"},"y":{"datum":-0.000502,"type":"quantitative"},"y2":{"datum":-0.000538}}},
{"data":{"values":[{"i":0,"t":"3 Apr 2024"},{"i":24,"t":"4 Apr 00:10"},{"i":48,"t":"4 Apr 02:10"},{"i":72,"t":"4 Apr 04:10"},{"i":96,"t":"4 Apr 06:10"},{"i":120,"t":"4 Apr 08:10"},{"i":144,"t":"4 Apr 10:10"},{"i":168,"t":"4 Apr 12:10"},{"i":192,"t":"4 Apr 14:10"},{"i":216,"t":"4 Apr 16:10"},{"i":240,"t":"4 Apr 18:10"},{"i":264,"t":"4 Apr 20:10"},{"i":288,"t":"4 Apr 22:10"},{"i":312,"t":"5 Apr 00:10"},{"i":336,"t":"5 Apr 02:10"}]},"mark":{"type":"text","align":"left","baseline":"top","color":"#000","fontSize":8,"font":"Liberation Sans","dx":1},"encoding":{"x":{"field":"i","type":"quantitative"},"y":{"datum":-0.000562,"type":"quantitative"},"text":{"field":"t"}}}
]}
]
}
